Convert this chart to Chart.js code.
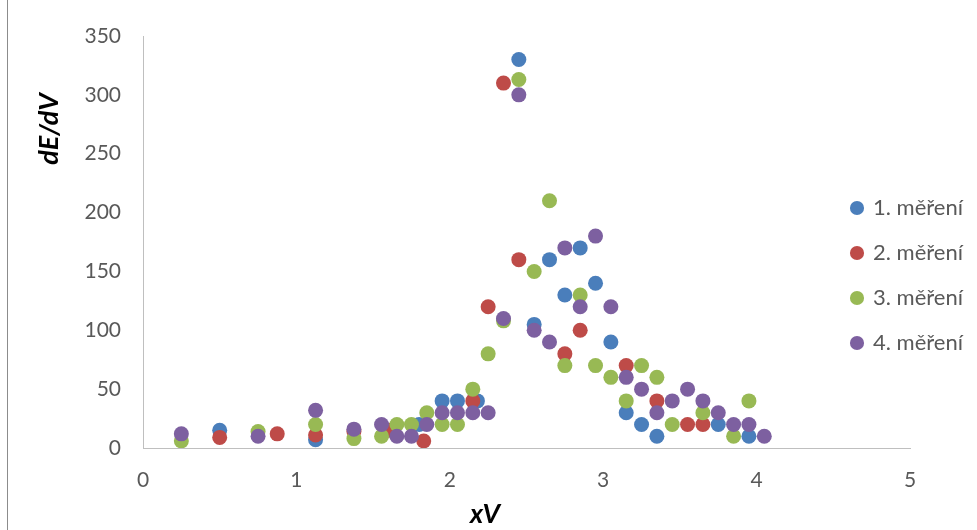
<!DOCTYPE html>
<html>
<head>
<meta charset="utf-8">
<title>dE/dV</title>
<script src="https://cdn.jsdelivr.net/npm/chart.js@4/dist/chart.umd.min.js"></script>
<style>
    html, body { margin: 0; padding: 0; background: #ffffff; }
    #wrap { position: relative; width: 977px; height: 530px; }
    #edge { position: absolute; left: 7px; top: 0; width: 1px; height: 530px; background: #8c8c8c; }
</style>
</head>
<body>
<div id="wrap">
    <canvas id="scatterChart" width="977" height="530"></canvas>
    <div id="edge"></div>
</div>
<script>
// ==================== DATA ====================
const seriesNames = ['1. měření', '2. měření', '3. měření', '4. měření'];
const seriesColors = ['#4A7EBB', '#BE4B48', '#98B954', '#7D60A0'];

const xTicks = [0, 1, 2, 3, 4, 5];
const yTicks = [0, 50, 100, 150, 200, 250, 300, 350];

const x1 = [0.5, 1.125, 1.8, 1.95, 2.05, 2.18, 2.45, 2.55, 2.65, 2.75, 2.85, 2.95, 3.05, 3.15, 3.25, 3.35, 3.75, 3.95];
const y1 = [15, 7, 20, 40, 40, 40, 330, 105, 160, 130, 170, 140, 90, 30, 20, 10, 20, 10];

const x2 = [0.5, 0.875, 1.125, 1.375, 1.6, 1.83, 2.15, 2.25, 2.35, 2.45, 2.75, 2.85, 3.15, 3.35, 3.55, 3.65];
const y2 = [9, 12, 11, 14, 15, 6, 40, 120, 310, 160, 80, 100, 70, 40, 20, 20];

const x3 = [0.25, 0.75, 1.125, 1.375, 1.555, 1.655, 1.75, 1.85, 1.95, 2.05, 2.15, 2.25, 2.35, 2.45, 2.55, 2.65, 2.75, 2.85, 2.95, 3.05, 3.15, 3.25, 3.35, 3.45, 3.65, 3.85, 3.95];
const y3 = [6, 14, 20, 8, 10, 20, 20, 30, 20, 20, 50, 80, 108, 313, 150, 210, 70, 130, 70, 60, 40, 70, 60, 20, 30, 10, 40];

const x4 = [0.25, 0.75, 1.125, 1.375, 1.555, 1.655, 1.75, 1.85, 1.95, 2.05, 2.15, 2.25, 2.35, 2.45, 2.55, 2.65, 2.75, 2.85, 2.95, 3.05, 3.15, 3.25, 3.35, 3.45, 3.55, 3.65, 3.75, 3.85, 3.95, 4.05];
const y4 = [12, 10, 32, 16, 20, 10, 10, 20, 30, 30, 30, 30, 110, 300, 100, 90, 170, 120, 180, 120, 60, 50, 30, 40, 50, 40, 30, 20, 20, 10];

const xTitle = 'xV';
const yTitle = 'dE/dV';

// ==================== HELPERS ====================
function toPoints(xs, ys) {
    return xs.map((x, i) => ({ x: x, y: ys[i] }));
}

const allX = [x1, x2, x3, x4];
const allY = [y1, y2, y3, y4];

// later series sit on top of earlier ones, like in the sheet
const datasets = seriesNames.map((name, i) => ({
    label: name,
    data: toPoints(allX[i], allY[i]),
    backgroundColor: seriesColors[i],
    borderColor: seriesColors[i],
    borderWidth: 0,
    pointRadius: 7.5,
    pointHoverRadius: 7.5,
    order: seriesNames.length - i
}));

// axis titles sit off-centre in the original, so they are drawn here
const axisTitles = {
    id: 'axisTitles',
    afterDraw(chart) {
        const ctx = chart.ctx;
        ctx.save();
        ctx.fillStyle = '#000000';
        ctx.font = 'italic bold 27px Lato';
        ctx.textAlign = 'center';
        ctx.textBaseline = 'middle';
        ctx.fillText(xTitle, 485, 514);
        ctx.translate(49, 129);
        ctx.rotate(-Math.PI / 2);
        ctx.fillText(yTitle, 0, 0);
        ctx.restore();
    }
};

// legend overlaps the plot area on the right
const legendPlace = {
    id: 'legendPlace',
    afterLayout(chart) {
        const lg = chart.legend;
        if (!lg) return;
        lg.left = 829;
        lg.right = 977;
        lg.top = 174;
        lg.bottom = 530;
    }
};

// ==================== CHART ====================
Chart.defaults.font.family = 'Lato';
Chart.defaults.font.size = 21;
Chart.defaults.color = '#595959';

new Chart(document.getElementById('scatterChart'), {
    type: 'scatter',
    data: { datasets: datasets },
    options: {
        responsive: false,
        animation: false,
        devicePixelRatio: 1,
        layout: { padding: { top: 36, left: 0, right: 0, bottom: 0 } },
        plugins: {
            tooltip: { enabled: false },
            legend: {
                position: 'right',
                align: 'start',
                maxWidth: 67,
                labels: {
                    usePointStyle: true,
                    pointStyle: 'circle',
                    boxWidth: 10,
                    boxHeight: 10,
                    padding: 23,
                    color: '#595959',
                    font: { size: 22 },
                    sort: (a, b) => a.datasetIndex - b.datasetIndex
                }
            }
        },
        scales: {
            x: {
                type: 'linear',
                min: xTicks[0],
                max: xTicks[xTicks.length - 1],
                afterBuildTicks: (scale) => { scale.ticks = xTicks.map(v => ({ value: v })); },
                afterFit: (scale) => { scale.height = 82; },
                grid: { display: false },
                border: { display: true, color: '#BFBFBF', width: 1 },
                ticks: { padding: 12, color: '#595959' }
            },
            y: {
                type: 'linear',
                min: yTicks[0],
                max: yTicks[yTicks.length - 1],
                afterBuildTicks: (scale) => { scale.ticks = yTicks.map(v => ({ value: v })); },
                afterFit: (scale) => { scale.width = 143; },
                grid: { display: false },
                border: { display: true, color: '#BFBFBF', width: 1 },
                ticks: { padding: 14, color: '#595959' }
            }
        }
    },
    plugins: [axisTitles, legendPlace]
});
</script>
</body>
</html>
